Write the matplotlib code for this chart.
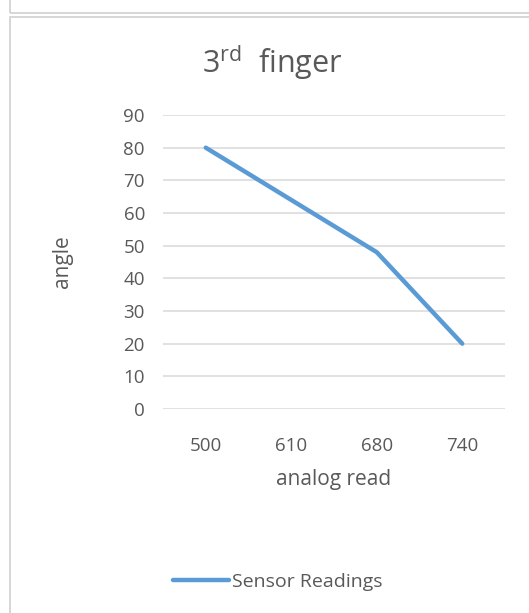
import matplotlib
matplotlib.use("Agg")
from matplotlib import pyplot as plt
from matplotlib.lines import Line2D
from matplotlib.patches import Rectangle

categories = ["500", "610", "680", "740"]
angles = [80, 64, 48, 20]
y_ticks = [0, 10, 20, 30, 40, 50, 60, 70, 80, 90]

W, H = 529, 613
text_col = "#595959"
line_col = "#5B9BD5"
grid_col = "#D9D9D9"
plt.rcParams["font.family"] = ["Open Sans", "DejaVu Sans"]

fig = plt.figure(figsize=(W / 100, H / 100), dpi=100)

# frames around the chart (as in the document screenshot)
fig.add_artist(Rectangle((10 / W, 1 - 13 / H), 1.2, 0.2, transform=fig.transFigure,
                         fill=False, edgecolor="#D0D0D0", lw=1.2))
fig.add_artist(Rectangle((10 / W, -0.1), 1.2, 1 - 16.5 / H + 0.1, transform=fig.transFigure,
                         fill=False, edgecolor="#D0D0D0", lw=1.2))

ax = fig.add_axes([163 / W, 1 - 409 / H, (505 - 163) / W, (409 - 115) / H])
x = range(len(categories))
ax.plot(x, angles, color=line_col, lw=3.2, solid_capstyle="round", solid_joinstyle="round",
        zorder=3)
ax.set_xlim(-0.5, len(categories) - 0.5)
ax.set_ylim(0, 90)
ax.set_yticks(y_ticks)
ax.set_xticks(list(x))
ax.set_xticklabels(categories)
ax.grid(axis="y", color=grid_col, lw=1.1)
ax.set_axisbelow(True)
for s in ax.spines.values():
    s.set_visible(False)
ax.tick_params(length=0, labelsize=13.5, colors=text_col)
ax.tick_params(axis="y", pad=13)
ax.tick_params(axis="x", pad=20)
ax.set_ylabel("angle", fontsize=15, color=text_col, labelpad=36)
ax.set_xlabel("analog read", fontsize=15, color=text_col, labelpad=10)

fig.text(272 / W, 1 - 62 / H, r"3$^{\mathregular{rd}}$  finger", ha="center", va="center",
         fontsize=22, color=text_col)

handle = Line2D([], [], color=line_col, lw=3.2, solid_capstyle="round")
fig.legend([handle], ["Sensor Readings"], loc="center", bbox_to_anchor=(278 / W, 1 - 582 / H),
           frameon=False, fontsize=14, labelcolor=text_col, handlelength=2.9,
           handletextpad=0.15)

fig.savefig("out.png", dpi=100, facecolor="white")
